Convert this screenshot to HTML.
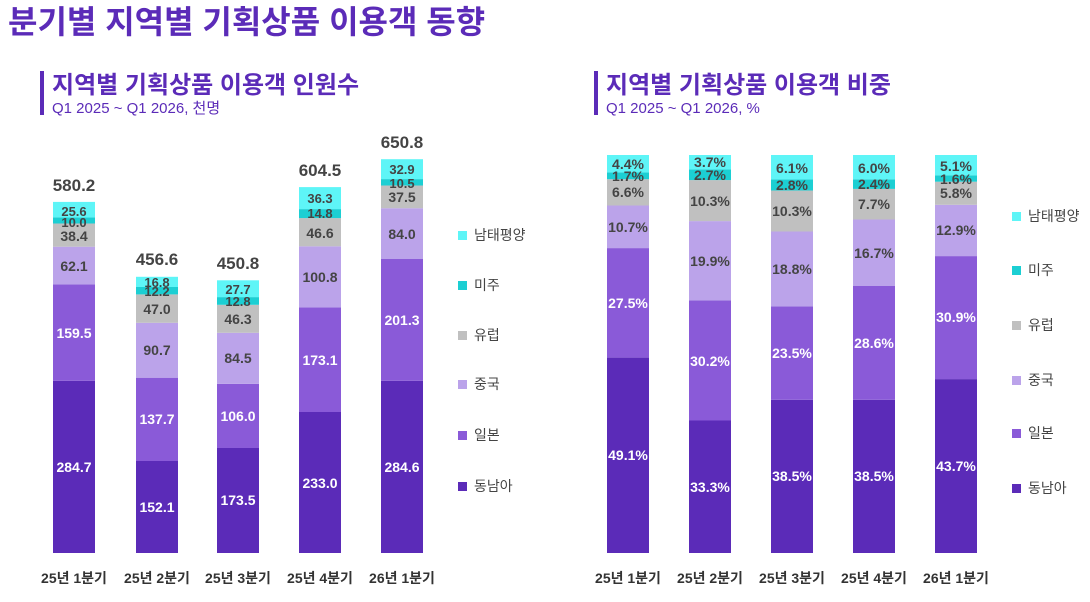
<!DOCTYPE html>
<html><head><meta charset="utf-8"><style>
body{margin:0;background:#fff;}
svg text{font-family:"Liberation Sans","Noto Sans CJK KR",sans-serif;font-weight:bold;}
.w{fill:#fff;font-size:14px;text-anchor:middle}
.d{fill:#444;font-size:14px;text-anchor:middle}
.s{fill:#444;font-size:13px;text-anchor:middle}
.t{fill:#444;font-size:17px;text-anchor:middle}
.x{fill:#333;font-size:14px;text-anchor:middle}
.lg{fill:#444;font-size:14px;font-weight:normal}
</style></head><body>
<svg width="1090" height="597" xmlns="http://www.w3.org/2000/svg">
<text x="8" y="33" font-size="32" fill="#5b2bb8">분기별 지역별 기획상품 이용객 동향</text>
<rect x="40" y="71" width="4" height="44" fill="#5b2bb8"/>
<text x="52" y="93" font-size="24" fill="#5b2bb8">지역별 기획상품 이용객 인원수</text>
<text x="52" y="113" font-size="15" fill="#5b2bb8" style="font-weight:normal">Q1 2025 ~ Q1 2026, 천명</text>
<rect x="594" y="71" width="4" height="44" fill="#5b2bb8"/>
<text x="606" y="93" font-size="24" fill="#5b2bb8">지역별 기획상품 이용객 비중</text>
<text x="606" y="113" font-size="15" fill="#5b2bb8" style="font-weight:normal">Q1 2025 ~ Q1 2026, %</text>

<g>
<rect x="53" y="380.8" width="42" height="172.2" fill="#5b2bb8"/>
<rect x="53" y="284.3" width="42" height="96.5" fill="#8a5ad8"/>
<rect x="53" y="246.7" width="42" height="37.6" fill="#bba3ea"/>
<rect x="53" y="223.5" width="42" height="23.2" fill="#c0c0c0"/>
<rect x="53" y="217.4" width="42" height="6.1" fill="#1ccfd3"/>
<rect x="53" y="201.9" width="42" height="15.5" fill="#5ef5f7"/>
<text class="w" x="74" y="472">284.7</text><text class="w" x="74" y="338">159.5</text>
<text class="d" x="74" y="271">62.1</text><text class="d" x="74" y="241">38.4</text>
<text class="s" x="74" y="227">10.0</text><text class="s" x="74" y="216">25.6</text>
<text class="t" x="74" y="191">580.2</text>

<rect x="136" y="461" width="42" height="92" fill="#5b2bb8"/>
<rect x="136" y="377.7" width="42" height="83.3" fill="#8a5ad8"/>
<rect x="136" y="322.8" width="42" height="54.9" fill="#bba3ea"/>
<rect x="136" y="294.4" width="42" height="28.4" fill="#c0c0c0"/>
<rect x="136" y="287" width="42" height="7.4" fill="#1ccfd3"/>
<rect x="136" y="276.8" width="42" height="10.2" fill="#5ef5f7"/>
<text class="w" x="157" y="512">152.1</text><text class="w" x="157" y="424">137.7</text>
<text class="d" x="157" y="355">90.7</text><text class="d" x="157" y="314">47.0</text>
<text class="s" x="157" y="296">12.2</text><text class="s" x="157" y="287">16.8</text>
<text class="t" x="157" y="265">456.6</text>

<rect x="217" y="448" width="42" height="105" fill="#5b2bb8"/>
<rect x="217" y="383.9" width="42" height="64.1" fill="#8a5ad8"/>
<rect x="217" y="332.8" width="42" height="51.1" fill="#bba3ea"/>
<rect x="217" y="304.8" width="42" height="28" fill="#c0c0c0"/>
<rect x="217" y="297.1" width="42" height="7.7" fill="#1ccfd3"/>
<rect x="217" y="280.3" width="42" height="16.8" fill="#5ef5f7"/>
<text class="w" x="238" y="505">173.5</text><text class="w" x="238" y="421">106.0</text>
<text class="d" x="238" y="363">84.5</text><text class="d" x="238" y="324">46.3</text>
<text class="s" x="238" y="306">12.8</text><text class="s" x="238" y="294">27.7</text>
<text class="t" x="238" y="269">450.8</text>

<rect x="299" y="412" width="42" height="141" fill="#5b2bb8"/>
<rect x="299" y="307.3" width="42" height="104.7" fill="#8a5ad8"/>
<rect x="299" y="246.3" width="42" height="61" fill="#bba3ea"/>
<rect x="299" y="218.1" width="42" height="28.2" fill="#c0c0c0"/>
<rect x="299" y="209.1" width="42" height="9" fill="#1ccfd3"/>
<rect x="299" y="187.1" width="42" height="22" fill="#5ef5f7"/>
<text class="w" x="320" y="488">233.0</text><text class="w" x="320" y="365">173.1</text>
<text class="d" x="320" y="282">100.8</text><text class="d" x="320" y="238">46.6</text>
<text class="s" x="320" y="218">14.8</text><text class="s" x="320" y="203">36.3</text>
<text class="t" x="320" y="176">604.5</text>

<rect x="381" y="380.8" width="42" height="172.2" fill="#5b2bb8"/>
<rect x="381" y="259" width="42" height="121.8" fill="#8a5ad8"/>
<rect x="381" y="208.2" width="42" height="50.8" fill="#bba3ea"/>
<rect x="381" y="185.5" width="42" height="22.7" fill="#c0c0c0"/>
<rect x="381" y="179.1" width="42" height="6.4" fill="#1ccfd3"/>
<rect x="381" y="159.2" width="42" height="19.9" fill="#5ef5f7"/>
<text class="w" x="402" y="472">284.6</text><text class="w" x="402" y="325">201.3</text>
<text class="d" x="402" y="239">84.0</text><text class="d" x="402" y="202">37.5</text>
<text class="s" x="402" y="188">10.5</text><text class="s" x="402" y="174">32.9</text>
<text class="t" x="402" y="148">650.8</text>
<text class="x" x="74" y="583">25년 1분기</text><text class="x" x="157" y="583">25년 2분기</text><text class="x" x="238" y="583">25년 3분기</text><text class="x" x="320" y="583">25년 4분기</text><text class="x" x="402" y="583">26년 1분기</text>
<rect x="458" y="231" width="9" height="9" fill="#5ef5f7"/><text class="lg" x="474" y="240">남태평양</text>
<rect x="458" y="281" width="9" height="9" fill="#1ccfd3"/><text class="lg" x="474" y="290">미주</text>
<rect x="458" y="331" width="9" height="9" fill="#c0c0c0"/><text class="lg" x="474" y="340">유럽</text>
<rect x="458" y="380" width="9" height="9" fill="#bba3ea"/><text class="lg" x="474" y="389">중국</text>
<rect x="458" y="431" width="9" height="9" fill="#8a5ad8"/><text class="lg" x="474" y="440">일본</text>
<rect x="458" y="482" width="9" height="9" fill="#5b2bb8"/><text class="lg" x="474" y="491">동남아</text>
</g>

<g>
<rect x="607" y="357.6" width="42" height="195.4" fill="#5b2bb8"/>
<rect x="607" y="248.1" width="42" height="109.5" fill="#8a5ad8"/>
<rect x="607" y="205.5" width="42" height="42.6" fill="#bba3ea"/>
<rect x="607" y="179.2" width="42" height="26.3" fill="#c0c0c0"/>
<rect x="607" y="172.4" width="42" height="6.8" fill="#1ccfd3"/>
<rect x="607" y="155" width="42" height="17.4" fill="#5ef5f7"/>
<text class="w" x="628" y="460">49.1%</text><text class="w" x="628" y="308">27.5%</text>
<text class="d" x="628" y="232">10.7%</text><text class="d" x="628" y="197">6.6%</text>
<text class="d" x="628" y="181">1.7%</text><text class="d" x="628" y="169">4.4%</text>

<rect x="689" y="420.5" width="42" height="132.5" fill="#5b2bb8"/>
<rect x="689" y="300.3" width="42" height="120.2" fill="#8a5ad8"/>
<rect x="689" y="221.1" width="42" height="79.2" fill="#bba3ea"/>
<rect x="689" y="180.1" width="42" height="41" fill="#c0c0c0"/>
<rect x="689" y="169.4" width="42" height="10.7" fill="#1ccfd3"/>
<rect x="689" y="155" width="42" height="14.4" fill="#5ef5f7"/>
<text class="w" x="710" y="492">33.3%</text><text class="w" x="710" y="366">30.2%</text>
<text class="d" x="710" y="266">19.9%</text><text class="d" x="710" y="206">10.3%</text>
<text class="d" x="710" y="180">2.7%</text><text class="d" x="710" y="167">3.7%</text>

<rect x="771" y="399.8" width="42" height="153.2" fill="#5b2bb8"/>
<rect x="771" y="306.3" width="42" height="93.5" fill="#8a5ad8"/>
<rect x="771" y="231.5" width="42" height="74.8" fill="#bba3ea"/>
<rect x="771" y="190.5" width="42" height="41" fill="#c0c0c0"/>
<rect x="771" y="179.4" width="42" height="11.1" fill="#1ccfd3"/>
<rect x="771" y="155" width="42" height="24.4" fill="#5ef5f7"/>
<text class="w" x="792" y="481">38.5%</text><text class="w" x="792" y="358">23.5%</text>
<text class="d" x="792" y="274">18.8%</text><text class="d" x="792" y="216">10.3%</text>
<text class="d" x="792" y="190">2.8%</text><text class="d" x="792" y="173">6.1%</text>

<rect x="853" y="399.8" width="42" height="153.2" fill="#5b2bb8"/>
<rect x="853" y="286" width="42" height="113.8" fill="#8a5ad8"/>
<rect x="853" y="219.5" width="42" height="66.5" fill="#bba3ea"/>
<rect x="853" y="188.9" width="42" height="30.6" fill="#c0c0c0"/>
<rect x="853" y="179.3" width="42" height="9.6" fill="#1ccfd3"/>
<rect x="853" y="155" width="42" height="24.3" fill="#5ef5f7"/>
<text class="w" x="874" y="481">38.5%</text><text class="w" x="874" y="348">28.6%</text>
<text class="d" x="874" y="258">16.7%</text><text class="d" x="874" y="209">7.7%</text>
<text class="d" x="874" y="189">2.4%</text><text class="d" x="874" y="173">6.0%</text>

<rect x="935" y="379.1" width="42" height="173.9" fill="#5b2bb8"/>
<rect x="935" y="256.1" width="42" height="123" fill="#8a5ad8"/>
<rect x="935" y="204.8" width="42" height="51.3" fill="#bba3ea"/>
<rect x="935" y="181.7" width="42" height="23.1" fill="#c0c0c0"/>
<rect x="935" y="175.3" width="42" height="6.4" fill="#1ccfd3"/>
<rect x="935" y="155" width="42" height="20.3" fill="#5ef5f7"/>
<text class="w" x="956" y="471">43.7%</text><text class="w" x="956" y="322">30.9%</text>
<text class="d" x="956" y="235">12.9%</text><text class="d" x="956" y="198">5.8%</text>
<text class="d" x="956" y="184">1.6%</text><text class="d" x="956" y="171">5.1%</text>

<text class="x" x="628" y="583">25년 1분기</text><text class="x" x="710" y="583">25년 2분기</text><text class="x" x="792" y="583">25년 3분기</text><text class="x" x="874" y="583">25년 4분기</text><text class="x" x="956" y="583">26년 1분기</text>
<rect x="1012" y="212" width="9" height="9" fill="#5ef5f7"/><text class="lg" x="1028" y="221">남태평양</text>
<rect x="1012" y="266" width="9" height="9" fill="#1ccfd3"/><text class="lg" x="1028" y="275">미주</text>
<rect x="1012" y="321" width="9" height="9" fill="#c0c0c0"/><text class="lg" x="1028" y="330">유럽</text>
<rect x="1012" y="376" width="9" height="9" fill="#bba3ea"/><text class="lg" x="1028" y="385">중국</text>
<rect x="1012" y="429" width="9" height="9" fill="#8a5ad8"/><text class="lg" x="1028" y="438">일본</text>
<rect x="1012" y="484" width="9" height="9" fill="#5b2bb8"/><text class="lg" x="1028" y="493">동남아</text>
</g>
</svg>
</body></html>
